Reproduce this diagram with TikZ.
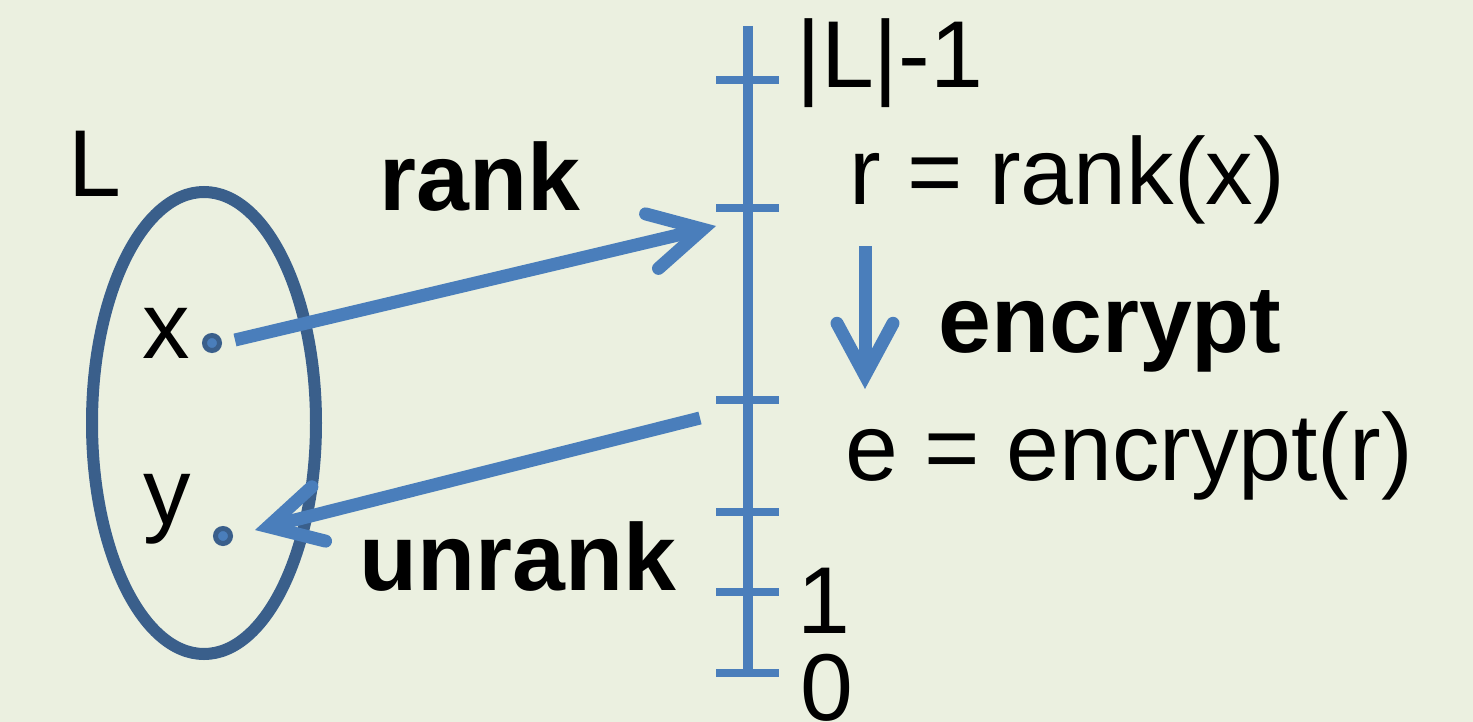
\documentclass[tikz,border=0pt]{standalone}
\usepackage{fontspec}
\setmainfont{Liberation Sans}
\usetikzlibrary{arrows.meta,shapes.geometric}
\definecolor{bg}{HTML}{EBF0E0}
\definecolor{arrowblue}{HTML}{4A7EBB}
\definecolor{setblue}{HTML}{3A5F8B}
\begin{document}
\begin{tikzpicture}[x=0.5pt,y=-0.5pt,
  lbl/.style={inner sep=0pt, anchor=base west, font=\fontsize{47.5pt}{57pt}\selectfont},
  blbl/.style={lbl, font=\fontsize{47.5pt}{57pt}\selectfont\bfseries},
  arr/.style={arrowblue, line width=6.5pt, line cap=butt,
    -{Straight Barb[length=26pt,width=28pt,line cap=round,line join=miter]}},
  axisline/.style={arrowblue, line width=4.7pt},
  tickmark/.style={arrowblue, line width=4pt},
  dot/.style={circle, draw=setblue, fill=arrowblue, line width=2.5pt, minimum size=7.5pt, inner sep=0pt},
  setshape/.style={ellipse, draw=setblue, line width=6pt, minimum width=112pt, minimum height=231pt, inner sep=0pt}]
\useasboundingbox (0,0) rectangle (1473,722);
\fill[bg] (0,0) rectangle (1473,722);
% set L
\node[setshape] (set) at (204,423) {};
\node[lbl] (Llbl) at (68,197) {L};
\node[lbl] (xlbl) at (142,358) {x};
\node[lbl] (ylbl) at (143,524) {y};
\node[dot] (xdot) at (212,343) {};
\node[dot] (ydot) at (223,536) {};
% axis
\coordinate (axtop) at (748,26);
\coordinate (axbot) at (748,673);
\draw[axisline] (axtop) -- (axbot);
\foreach \t/\n in {80/t5,208/t4,400/t3,512/t2,592/t1,673/t0}{
  \coordinate (\n l) at (716,\t);
  \coordinate (\n r) at (779,\t);
  \draw[tickmark] (\n l) -- (\n r);
}
\node[lbl] (lmax) at (796,88) {|L|-1};
\node[lbl] (lone) at (797,633) {1};
\node[lbl] (lzero) at (800,720) {0};
% labels
\node[blbl] (ranklbl) at (379,210) {rank};
\node[blbl] (unranklbl) at (359,590) {unrank};
\node[lbl] (rdef) at (849,205) {r = rank(x)};
\node[blbl] (enclbl) at (938,352) {encrypt};
\node[lbl] (edef) at (845,480) {e = encrypt(r)};
% arrows
\coordinate (rankstart) at (235,340);
\coordinate (rankend) at (716,226);
\coordinate (encstart) at (865,246);
\coordinate (encend) at (865,389);
\coordinate (unrstart) at (700,418);
\coordinate (unrend) at (255,530);
\draw[arr] (rankstart) -- (rankend);
\draw[arr] (encstart) -- (encend);
\draw[arr] (unrstart) -- (unrend);
\end{tikzpicture}
\end{document}
